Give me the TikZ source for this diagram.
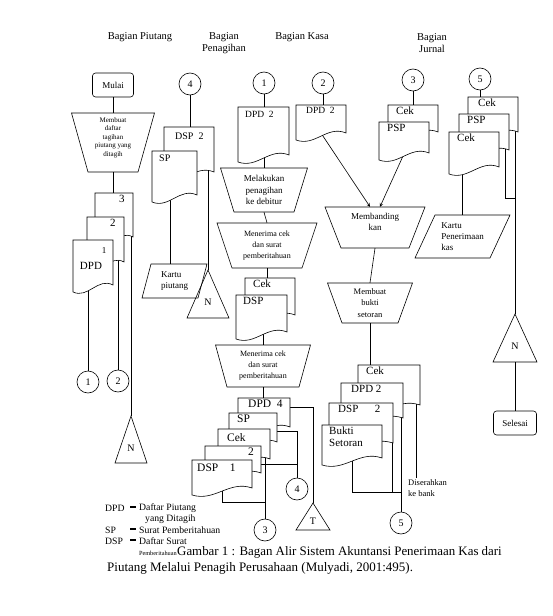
\documentclass[tikz,border=0pt]{standalone}
\usepackage{fontspec}
\setmainfont{Liberation Serif}
\usetikzlibrary{calc}
\pgfdeclarelayer{bg}
\pgfsetlayers{bg,main}

\tikzset{
  garis/.style={line width=0.6pt},
  lbl/.style={inner sep=1pt, font=\fontsize{11}{12}\selectfont},
  kecil/.style={inner sep=0pt, align=center, font=\fontsize{8}{11}\selectfont},
  bulat/.style={circle, draw, garis, minimum size=22pt, inner sep=0pt, font=\fontsize{10}{12}\selectfont},
  terminal/.style={draw, garis, rounded corners=3pt, minimum height=24pt, inner sep=0pt, font=\fontsize{9}{11}\selectfont},
  judul/.style={align=center, font=\fontsize{10.5}{11.5}\selectfont},
  ket/.style={anchor=west, inner sep=0pt, font=\fontsize{9.7}{11}\selectfont},
}

% dokumen: [opsi label]{nama}{x}{y}{lebar}{tinggi}{label}
\newcommand{\dok}[7][]{%
  \draw[garis, fill=white] (#3,#4) -- (#3+#5,#4) -- (#3+#5,#4+#6)
    .. controls (#3+0.62*#5,#4+#6-8) and (#3+0.38*#5,#4+#6+14) .. (#3,#4+#6+7) -- cycle;
  \node[inner sep=0pt, minimum width=#5, minimum height=#6, anchor=north west] (#2) at (#3,#4) {};
  \node[lbl, anchor=north west, #1] (#2-t) at (#3+6,#4+1) {#7};}

% proses manual: [opsi teks]{nama}{cx}{ytop}{lebar atas}{lebar bawah}{tinggi}{teks}
\newcommand{\manual}[8][]{%
  \draw[garis] (#3-#5/2,#4) -- (#3+#5/2,#4) -- (#3+#6/2,#4+#7) -- (#3-#6/2,#4+#7) -- cycle;
  \node[inner sep=0pt, minimum width=#6, minimum height=#7] (#2) at (#3,#4+#7/2) {};
  \node[kecil, #1] (#2-t) at (#2) {#8};}

% kartu (jajaran genjang): [opsi teks]{nama}{x kiri atas}{ytop}{lebar}{tinggi}{miring}{teks}
\newcommand{\kartu}[8][]{%
  \draw[garis] (#3,#4) -- (#3+#5,#4) -- (#3+#5-#7,#4+#6) -- (#3-#7,#4+#6) -- cycle;
  \node[inner sep=0pt, minimum width=#5-#7, minimum height=#6] (#2) at (#3+#5/2-#7/2,#4+#6/2) {};
  \node[kecil, align=left, #1] (#2-t) at (#2) {#8};}

% arsip: {nama}{x puncak}{y puncak}{lebar}{tinggi}{huruf}
\newcommand{\segitiga}[6]{%
  \draw[garis] (#2,#3) -- (#2+#4/2,#3+#5) -- (#2-#4/2,#3+#5) -- cycle;
  \coordinate (#1) at (#2,#3);
  \coordinate (#1-b) at (#2,#3+#5);
  \node[lbl, font=\fontsize{10}{12}\selectfont] (#1-t) at (#2,#3+0.68*#5) {#6};}

\newcommand{\strip}{\rule[2.5pt]{6pt}{1.6pt}}

\begin{document}
\begin{tikzpicture}[x=1pt,y=-1pt]
\path (0,0) rectangle (552,616);

% judul kolom
\node[judul] (h1) at (140,37) {Bagian Piutang};
\node[judul] (h2) at (224,43) {Bagian\\Penagihan};
\node[judul] (h3) at (302,37) {Bagian Kasa};
\node[judul] (h4) at (432,43) {Bagian\\Jurnal};

% Bagian Piutang
\node[terminal, minimum width=41pt] (mulai) at (113,85) {Mulai};
\manual[yshift=5pt, font=\fontsize{7}{8.5}\selectfont]{buat}{113}{113}{83}{50}{59}{Membuat\\daftar\\tagihan\\piutang yang\\ditagih}
\dok[xshift=17pt]{d3}{95}{193}{38}{44}{3}
\dok[xshift=16pt]{d2}{87}{217}{37}{45}{2}
\dok{d1}{73}{240}{40}{45}{}
\node[lbl, font=\fontsize{9}{10}\selectfont] (d1-a) at (104,251) {1};
\node[lbl] (d1-b) at (91,266) {DPD};
\node[bulat] (c1a) at (88,382) {1};
\node[bulat] (c2a) at (118,381) {2};
\segitiga{n1}{131}{416}{32}{47}{N}

% Bagian Penagihan
\node[bulat] (c4a) at (190,84) {4};
\dok[xshift=4pt, yshift=-4pt, font=\fontsize{10}{12}\selectfont]{dspP}{164}{127}{50}{45}{DSP\ \ 2}
\dok[yshift=-2pt, font=\fontsize{10}{12}\selectfont]{sp}{152}{151}{45}{44}{SP}
\kartu[font=\fontsize{9}{11}\selectfont]{kartuP}{151}{264}{56}{34}{9}{Kartu\\piutang}
\segitiga{n2}{208}{270}{42}{48}{N}

\node[bulat] (c1b) at (264,83) {1};
\dok[yshift=-2pt, font=\fontsize{9.5}{11}\selectfont]{dpd2c}{238}{107}{51}{48}{DPD\ \ 2}
\manual[font=\fontsize{9}{11.5}\selectfont]{tagih}{264}{168}{87}{60}{44}{Melakukan\\penagihan\\ke debitur}
\manual{terima1}{267}{223}{100}{70}{45}{Menerima cek\\dan surat\\pemberitahuan}
\dok[xshift=1pt]{cek3}{245}{278}{50}{37}{Cek}
\dok{dsp3}{236}{295}{51}{37}{DSP}
\manual{terima2}{263}{345}{95}{72}{42}{Menerima cek\\dan surat\\pemberitahuan}
\dok[xshift=3pt, font=\fontsize{11.5}{13}\selectfont]{dpd4}{238}{398}{52}{29}{DPD\ \ 4}
\dok[xshift=1pt, font=\fontsize{11.5}{13}\selectfont]{sp4}{229}{413}{48}{29}{SP}
\dok[xshift=2pt, yshift=-2pt, font=\fontsize{11.5}{13}\selectfont]{cek4}{218}{429}{52}{30}{Cek}
\dok[xshift=36pt, font=\fontsize{11.5}{13}\selectfont]{two4}{205}{446}{56}{27}{2}
\dok[xshift=-2pt, yshift=-2pt, font=\fontsize{11.5}{13}\selectfont]{dsp4}{192}{460}{60}{28}{DSP\quad 1}
\node[bulat] (c4b) at (297,489) {4};
\node[bulat] (c3b) at (265,530) {3};
\segitiga{tT}{313}{503}{34}{27}{T}

% Bagian Kasa
\node[bulat] (c2b) at (323,83) {2};
\node[bulat] (c3c) at (413,80) {3};
\dok[xshift=3pt, font=\fontsize{9.5}{11}\selectfont]{dpd2d}{296}{105}{50}{28}{DPD\ \ 2}
\dok[xshift=1pt]{cek5}{388}{105}{50}{27}{Cek}
\dok[xshift=1pt]{psp5}{379}{122}{50}{31}{PSP}
\manual[yshift=6pt, font=\fontsize{9}{11}\selectfont]{banding}{375}{207}{100}{68}{41}{Membanding\\kan}
\manual[font=\fontsize{8.5}{11.5}\selectfont]{buktiP}{370}{283}{85}{56}{40}{Membuat\\bukti\\setoran}
\dok[xshift=1pt]{cekB}{358}{365}{62}{40}{Cek}
\dok[xshift=3pt]{dpdB}{341}{383}{62}{35}{DPD\ 2}
\dok[xshift=2pt]{dspB}{329}{403}{64}{40}{DSP\quad\ \ 2}
\dok[align=left]{bukti}{322}{425}{60}{33}{Bukti\\Setoran}
\coordinate (bank) at (416,478);
\node[ket, anchor=north west, align=left, font=\fontsize{8.5}{11}\selectfont] (bank-t) at (408,479) {Diserahkan\\ke bank};
\coordinate (gab5) at (401,492);
\node[bulat] (c5b) at (401,523) {5};

% Bagian Jurnal
\node[bulat] (c5c) at (480,79) {5};
\dok[xshift=3pt]{cekJ1}{468}{97}{50}{35}{Cek}
\dok[xshift=1pt]{pspJ}{459}{114}{50}{36}{PSP}
\dok[xshift=1pt]{cekJ2}{449}{132}{50}{35}{Cek}
\kartu[font=\fontsize{9}{11}\selectfont]{kpk}{435}{215}{75}{43}{20}{Kartu\\Penerimaan\\kas}
\coordinate (gabJ) at (515,198);
\segitiga{nJ}{515}{314}{44}{48}{N}
\node[terminal, minimum width=43pt] (selesai) at (515,423) {Selesai};

% garis alir
\begin{pgfonlayer}{bg}
\draw[garis] (mulai.south) -- (buat.north);
\draw[garis] (buat.south) -- (buat.south |- d3.north);
\draw[garis] (c1a |- d1.center) -- (c1a.north);
\draw[garis] (c2a |- d2.center) -- (c2a.north);
\draw[garis] (n1 |- d3.center) -- (n1);
\draw[garis] (c4a.south) -- (c4a.south |- dspP.north);
\draw[garis] ([xshift=-4pt]sp.center) -- ([xshift=-4pt]sp.center |- kartuP.north);
\draw[garis] (n2 |- dspP.center) -- (n2);
\draw[garis] (c1b.south) -- (c1b.south |- dpd2c.north);
\draw[garis] (tagih.north |- dpd2c.center) -- (tagih.north);
\draw[garis] (tagih.south) -- (terima1.north);
\draw[garis] (terima1.south) -- (terima1.south |- cek3.north);
\draw[garis] (terima2.north |- dsp3.center) -- (terima2.north);
\draw[garis] (terima2.south) -- (terima2.south |- dpd4.north);
\draw[garis] ([yshift=5pt]dpd4.east) -| (tT);
\draw[garis] ([yshift=-4pt]sp4.east) -| (c4b.north);
\draw[garis] ([yshift=-5pt]two4.east) -| (c4b.north);
\draw[garis] (c3b.north |- cek4.center) -- (c3b.north);
\draw[garis] (dsp4.center) |- ([yshift=16pt]c3b.north);
\draw[garis] (c2b.south) -- (c2b.south |- dpd2d.north);
\draw[garis] (c3c.south) -- (c3c.south |- cek5.north);
\draw[garis,-stealth] (dpd2d.south) -- ([xshift=-5pt]banding.north);
\draw[garis,-stealth] (psp5.south) -- ([xshift=5pt]banding.north);
\draw[garis] (banding.south) -- (buktiP.north);
\draw[garis] (buktiP.south) -- (buktiP.south |- cekB.north);
\draw[garis] (bank |- cekB.center) -- (bank);
\draw[garis] (c5b.north |- dpdB.center) -- (c5b.north);
\draw[garis] (bukti.center) |- (gab5);
\draw[garis] ([xshift=31pt]dspB.center) |- (gab5);
\draw[garis] (c5c.south) -- (c5c.south |- cekJ1.north);
\draw[garis] (kpk.north |- cekJ2.center) -- (kpk.north);
\draw[garis] ([xshift=-4pt]pspJ.east) |- (gabJ);
\draw[garis] (nJ |- cekJ1.center) -- (nJ);
\draw[garis] (nJ-b) -- (selesai.north);
\end{pgfonlayer}

% keterangan
\node[ket] (k1) at (105,508) {DPD};
\node[ket] (k1s) at (130,508) {\strip};
\node[ket] (k1a) at (139,508) {Daftar Piutang};
\node[ket] (k1b) at (145,519) {yang Ditagih};
\node[ket] (k2) at (105,530) {SP};
\node[ket] (k2s) at (130,530) {\strip};
\node[ket] (k2a) at (139,530) {Surat Pemberitahuan};
\node[ket] (k3) at (105,541) {DSP};
\node[ket] (k3s) at (130,541) {\strip};
\node[ket] (k3a) at (139,541) {Daftar Surat};
\node[inner sep=0pt, anchor=base west, font=\fontsize{12.9}{15}\selectfont] (cap1) at (177,555) {Gambar 1 : Bagan Alir Sistem Akuntansi Penerimaan Kas dari};
\node[inner sep=0pt, anchor=base east, font=\fontsize{6.3}{8}\selectfont] (k3b) at (cap1.base west) {Pemberitahuan};
\node[inner sep=0pt, anchor=base west, font=\fontsize{13}{15}\selectfont] (cap2) at (107,571) {Piutang Melalui Penagih Perusahaan (Mulyadi, 2001:495).};
\end{tikzpicture}
\end{document}
